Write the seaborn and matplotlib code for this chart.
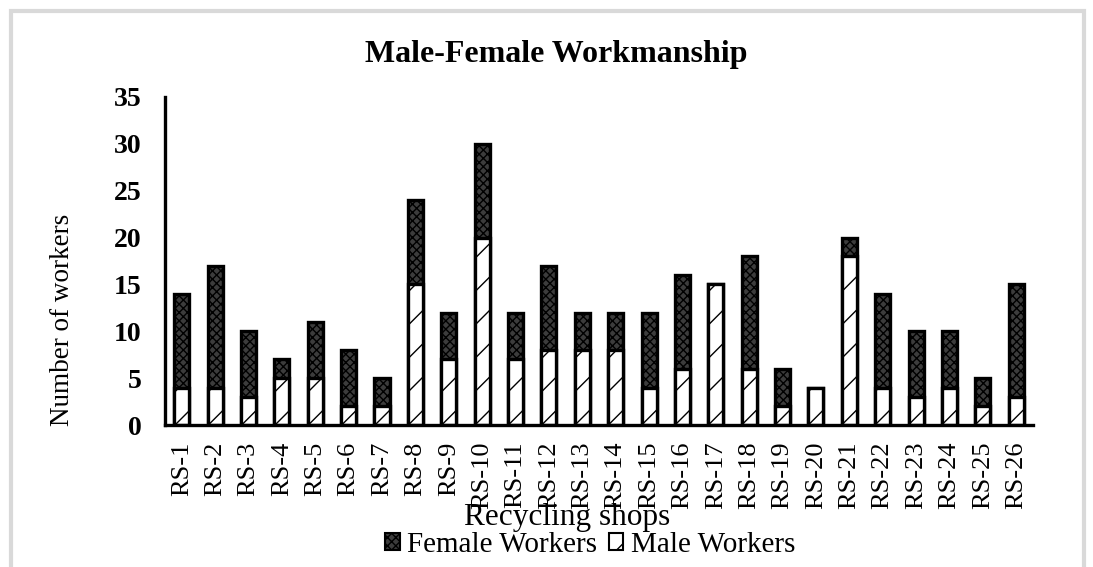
import matplotlib
matplotlib.use("Agg")
import matplotlib.pyplot as plt
import seaborn as sns
import pandas as pd
from matplotlib.patches import Patch, Rectangle

shops = [f"RS-{i}" for i in range(1, 27)]
male_workers = [4, 4, 3, 5, 5, 2, 2, 15, 7, 20, 7, 8, 8, 8, 4, 6, 15, 6, 2, 4, 18, 4, 3, 4, 2, 3]
female_workers = [10, 13, 7, 2, 6, 6, 3, 9, 5, 10, 5, 9, 4, 4, 8, 10, 0, 12, 4, 0, 2, 10, 7, 6, 3, 12]

df = pd.DataFrame({"shop": shops, "male": male_workers, "female": female_workers})
df["total"] = df["male"] + df["female"]

sns.set_theme(style="white")
plt.rcParams["font.family"] = ["Liberation Serif", "DejaVu Serif"]
plt.rcParams["hatch.linewidth"] = 1.0
plt.rcParams["text.color"] = "black"
plt.rcParams["xtick.color"] = "black"
plt.rcParams["ytick.color"] = "black"

fig = plt.figure(figsize=(10.93, 5.67), dpi=100)
ax = fig.add_axes([0.151, 0.2504, 0.794, 0.5786])

# totals drawn with the female pattern, male part laid over from zero
sns.barplot(data=df, x="shop", y="total", ax=ax, color="#3c3c3c", width=0.45,
            edgecolor="black", linewidth=2.4, hatch="xxxx", saturation=1)
sns.barplot(data=df, x="shop", y="male", ax=ax, color="white", width=0.45,
            edgecolor="black", linewidth=2.4, hatch="/", saturation=1)

ax.set_xlim(-0.5, 25.5)
ax.set_ylim(0, 35)
ax.set_yticks(range(0, 36, 5))
for lab in ax.get_yticklabels():
    lab.set_fontweight("bold")
ax.tick_params(axis="y", labelsize=20, length=0, pad=17, labelcolor="black")
ax.tick_params(axis="x", labelsize=19, length=0, rotation=90, pad=12, labelcolor="black")
for s in ["top", "right"]:
    ax.spines[s].set_visible(False)
for s in ["left", "bottom"]:
    ax.spines[s].set_color("black")
    ax.spines[s].set_linewidth(2.4)

ax.set_xlabel("")
ax.set_ylabel("")
fig.text(0.057, 0.436, "Number of workers", ha="center", va="center", rotation=90,
         fontsize=19.5, color="black")
fig.text(0.509, 0.903, "Male-Female Workmanship", ha="center", va="center",
         fontsize=23, fontweight="bold", color="black")
fig.text(0.519, 0.088, "Recycling shops", ha="center", va="center", fontsize=22.5, color="black")

handles = [Patch(facecolor="#3c3c3c", edgecolor="black", hatch="xxxx", linewidth=1.5, label="Female Workers"),
           Patch(facecolor="white", edgecolor="black", hatch="/", linewidth=1.5, label="Male Workers")]
leg = fig.legend(handles=handles, loc="center", bbox_to_anchor=(0.54, 0.039), ncol=2, frameon=False,
                 fontsize=21, handlelength=0.5, handleheight=0.5, handletextpad=0.25, columnspacing=0.4,
                 borderpad=0)
for t in leg.get_texts():
    t.set_color("black")

fig.patches.append(Rectangle((0.0105, -0.02), 0.981, 1.0, transform=fig.transFigure,
                             fill=False, edgecolor="#d9d9d9", linewidth=3))

fig.savefig("out.png", dpi=100)
